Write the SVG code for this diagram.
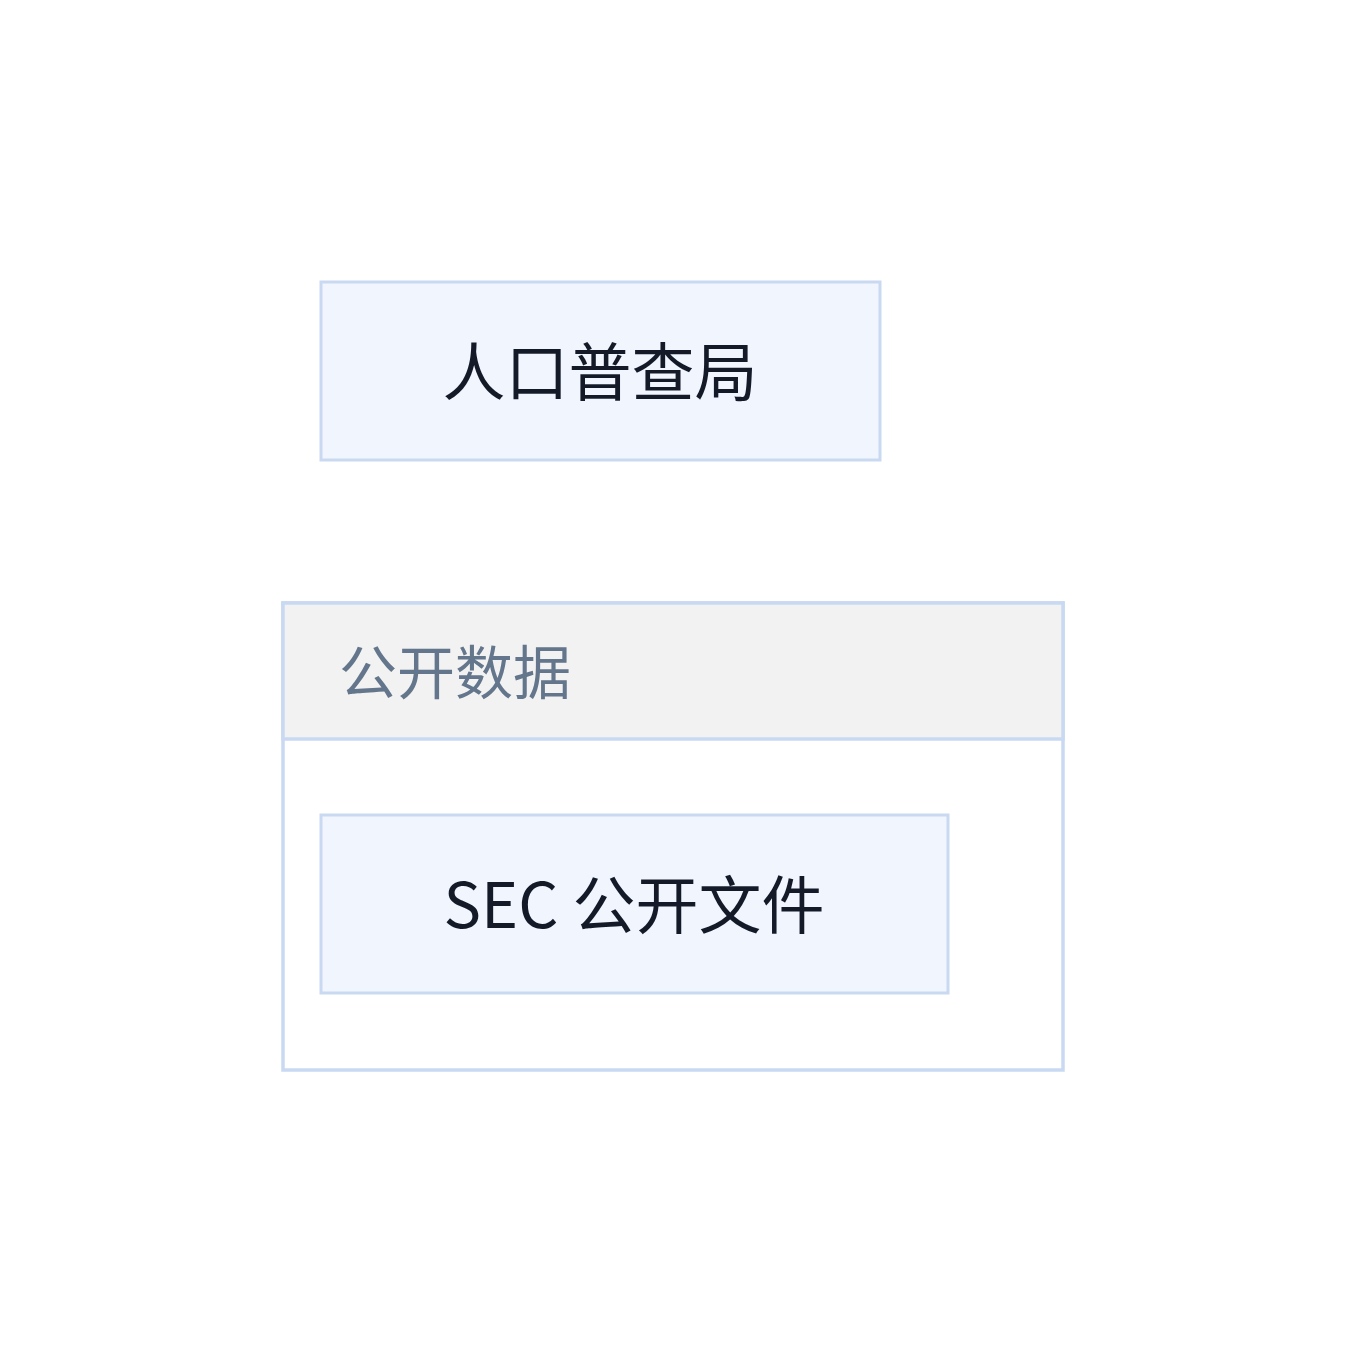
<svg xmlns="http://www.w3.org/2000/svg" width="1346" height="1352" viewBox="0 0 1346 1352">
<style>
.node rect{fill:#f0f5fe;stroke:#c9d9f2;stroke-width:3}
.lbl{font-family:"Noto Sans CJK SC","Noto Sans",sans-serif;fill:#141a28;text-anchor:middle}
.cl{font-family:"Noto Sans CJK SC","Noto Sans",sans-serif;fill:#64768c}
</style>
<rect width="1346" height="1352" fill="#ffffff"/>
<g id="cluster-public">
<rect x="283" y="603" width="780" height="467" fill="#ffffff" stroke="#c9d9f2" stroke-width="3.5"/>
<rect x="283" y="603" width="780" height="136" fill="#f2f2f2" stroke="#c9d9f2" stroke-width="3.5"/>
<text class="cl" x="339" y="694" font-size="58">公开数据</text>
</g>
<g id="census" class="node">
<rect x="321" y="282" width="559" height="178"/>
<text class="lbl" x="600" y="395" font-size="63">人口普查局</text>
</g>
<g id="sec" class="node">
<rect x="321" y="815" width="627" height="178"/>
<text class="lbl" x="634" y="928" font-size="63">SEC 公开文件</text>
</g>
<g id="connectors"></g>
</svg>
